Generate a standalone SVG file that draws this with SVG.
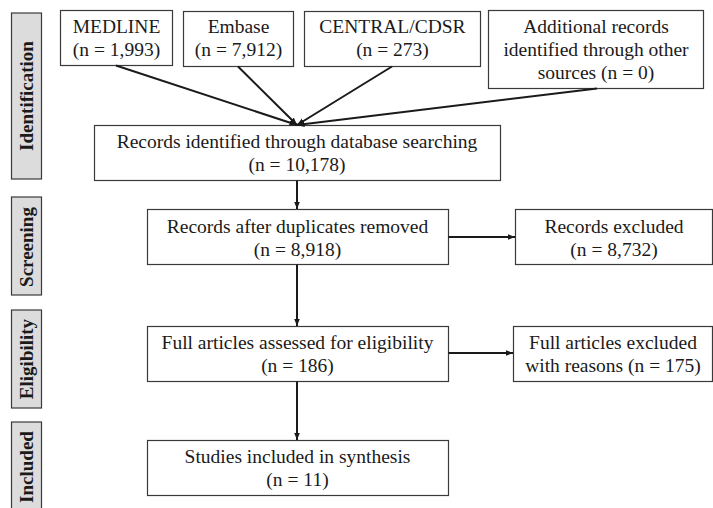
<svg xmlns="http://www.w3.org/2000/svg" width="713" height="508" viewBox="0 0 713 508">
<style>
.box{fill:#fff;stroke:#3a3a3a;stroke-width:1.2}
.lab{fill:#dcdcdc;stroke:#3a3a3a;stroke-width:1.2}
.t{font-family:"Liberation Serif","Times New Roman",serif;font-size:19.5px;fill:#1a1a1a;text-anchor:middle}
.lt{font-family:"Liberation Serif","Times New Roman",serif;font-size:19px;font-weight:bold;fill:#1a1a1a;text-anchor:middle}
.c{stroke:#1a1a1a;stroke-width:2;fill:none}
</style>
<defs>
<marker id="ah" markerUnits="userSpaceOnUse" markerWidth="8" markerHeight="8" refX="7.5" refY="4" orient="auto">
<path d="M0,1 L7.5,4 L0,7 Z" fill="#1a1a1a"/>
</marker>
</defs>
<rect width="713" height="508" fill="#fff"/>

<g id="lab-identification"><rect class="lab" x="11.5" y="13" width="30" height="166"/><text class="lt" transform="translate(33,96) rotate(-90)">Identification</text></g>
<g id="lab-screening"><rect class="lab" x="11.5" y="197" width="30" height="98"/><text class="lt" transform="translate(33,247) rotate(-90)">Screening</text></g>
<g id="lab-eligibility"><rect class="lab" x="11.5" y="310" width="30" height="98"/><text class="lt" transform="translate(33,359) rotate(-90)">Eligibility</text></g>
<g id="lab-included"><rect class="lab" x="11.5" y="422" width="30" height="90"/><text class="lt" transform="translate(33,467) rotate(-90)">Included</text></g>

<g id="medline"><rect class="box" x="60.5" y="10.5" width="112" height="55"/><text class="t" x="116.5" y="33">MEDLINE</text><text class="t" x="116.5" y="56">(n = 1,993)</text></g>
<g id="embase"><rect class="box" x="183.5" y="11.5" width="110" height="55"/><text class="t" x="238.5" y="33">Embase</text><text class="t" x="238.5" y="56">(n = 7,912)</text></g>
<g id="central"><rect class="box" x="304.5" y="11.5" width="176" height="55"/><text class="t" x="392.5" y="33">CENTRAL/CDSR</text><text class="t" x="392.5" y="56">(n = 273)</text></g>
<g id="additional"><rect class="box" x="488.5" y="10.5" width="215" height="78"/><text class="t" x="596" y="33">Additional records</text><text class="t" x="596" y="56">identified through other</text><text class="t" x="596" y="79">sources (n = 0)</text></g>
<g id="identified"><rect class="box" x="94.5" y="125.5" width="406" height="55"/><text class="t" x="297" y="148">Records identified through database searching</text><text class="t" x="297" y="171">(n = 10,178)</text></g>
<g id="dedup"><rect class="box" x="147.5" y="209.5" width="301" height="55"/><text class="t" x="297.5" y="233">Records after duplicates removed</text><text class="t" x="297.5" y="256">(n = 8,918)</text></g>
<g id="excluded"><rect class="box" x="515.5" y="209.5" width="197" height="55"/><text class="t" x="614" y="233">Records excluded</text><text class="t" x="614" y="256">(n = 8,732)</text></g>
<g id="fulltext"><rect class="box" x="147.5" y="326.5" width="301" height="55"/><text class="t" x="297.5" y="349">Full articles assessed for eligibility</text><text class="t" x="297.5" y="372">(n = 186)</text></g>
<g id="fulltext-excluded"><rect class="box" x="513.5" y="326.5" width="199" height="55"/><text class="t" x="613" y="349">Full articles excluded</text><text class="t" x="613" y="372">with reasons (n = 175)</text></g>
<g id="included"><rect class="box" x="147.5" y="440.5" width="301" height="55"/><text class="t" x="297.5" y="463">Studies included in synthesis</text><text class="t" x="297.5" y="486">(n = 11)</text></g>

<g id="connectors">
<line class="c" x1="116" y1="65.5" x2="297" y2="125" marker-end="url(#ah)"/>
<line class="c" x1="238" y1="66.5" x2="297" y2="125" marker-end="url(#ah)"/>
<line class="c" x1="392" y1="66.5" x2="297" y2="125" marker-end="url(#ah)"/>
<line class="c" x1="597" y1="88.5" x2="297" y2="125" marker-end="url(#ah)"/>
<line class="c" x1="297" y1="180.5" x2="297" y2="209" marker-end="url(#ah)"/>
<line class="c" x1="297" y1="264.5" x2="297" y2="326" marker-end="url(#ah)"/>
<line class="c" x1="297" y1="381.5" x2="297" y2="440" marker-end="url(#ah)"/>
<line class="c" x1="448.5" y1="237" x2="515" y2="237" marker-end="url(#ah)"/>
<line class="c" x1="448.5" y1="353" x2="513" y2="353" marker-end="url(#ah)"/>
</g>
</svg>
